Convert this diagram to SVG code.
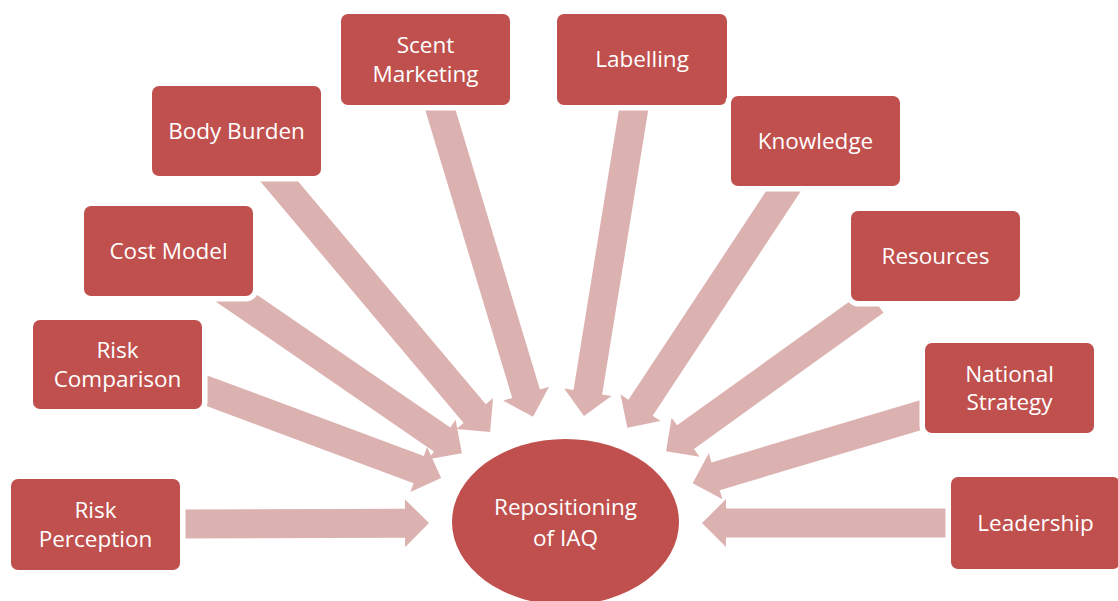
<svg xmlns="http://www.w3.org/2000/svg" width="1118" height="601" viewBox="0 0 1118 601">
<style>
.box{fill:#C0504D;stroke:#FFFFFF;stroke-width:11;paint-order:stroke fill;}
.ell{fill:#C0504D;}
.arr{fill:#DCB2B1;}
text{font-family:"Open Sans","Liberation Sans",sans-serif;font-size:22.5px;fill:#FFFFFF;text-anchor:middle;}
</style>
<rect width="1118" height="601" fill="#FFFFFF"/>
<g id="connectors">
<polygon class="arr" transform="translate(175,524) rotate(-0.2)" points="0,-14.5 230,-14.5 230,-24 254,0 230,24 230,14.5 0,14.5"/>
<polygon class="arr" transform="translate(190,384.5) rotate(20.4)" points="0,-14.5 244,-14.5 244,-24 268,0 244,24 244,14.5 0,14.5"/>
<polygon class="arr" transform="translate(224.5,290) rotate(34.5)" points="0,-14.5 264,-14.5 264,-24 288,0 264,24 264,14.5 0,14.5"/>
<polygon class="arr" transform="translate(269.6,170) rotate(49.9)" points="0,-14.5 318.4,-14.5 318.4,-24 342.4,0 318.4,24 318.4,14.5 0,14.5"/>
<polygon class="arr" transform="translate(436.8,98) rotate(73.2)" points="0,-14.5 308.9,-14.5 308.9,-24 332.9,0 308.9,24 308.9,14.5 0,14.5"/>
<polygon class="arr" transform="translate(635.5,98) rotate(99.2)" points="0,-14.5 298.1,-14.5 298.1,-24 322.1,0 298.1,24 298.1,14.5 0,14.5"/>
<polygon class="arr" transform="translate(790.8,180) rotate(123.4)" points="0,-14.5 272.9,-14.5 272.9,-24 296.9,0 272.9,24 272.9,14.5 0,14.5"/>
<polygon class="arr" transform="translate(875,301) rotate(144.3)" points="0,-14.5 233.3,-14.5 233.3,-24 257.3,0 233.3,24 233.3,14.5 0,14.5"/>
<polygon class="arr" transform="translate(930,412.4) rotate(163.4)" points="0,-14.5 223.7,-14.5 223.7,-24 247.7,0 223.7,24 223.7,14.5 0,14.5"/>
<polygon class="arr" transform="translate(957,523) rotate(180)" points="0,-14.5 231,-14.5 231,-24 255,0 231,24 231,14.5 0,14.5"/>
</g>
<g id="risk-perception">
<rect class="box" x="11" y="479" width="169" height="91" rx="7"/>
<text x="95.5" y="518.3">Risk</text>
<text x="95.5" y="547">Perception</text>
</g>
<g id="risk-comparison">
<rect class="box" x="33" y="320" width="169" height="89" rx="7"/>
<text x="117.5" y="358.3">Risk</text>
<text x="117.5" y="387">Comparison</text>
</g>
<g id="cost-model">
<rect class="box" x="84" y="206" width="169" height="90" rx="7"/>
<text x="168.5" y="258.7">Cost Model</text>
</g>
<g id="body-burden">
<rect class="box" x="152" y="86" width="169" height="90" rx="7"/>
<text x="236.5" y="138.5">Body Burden</text>
</g>
<g id="scent-marketing">
<rect class="box" x="341" y="14" width="169" height="91" rx="7"/>
<text x="425.5" y="53.3">Scent</text>
<text x="425.5" y="81.7">Marketing</text>
</g>
<g id="labelling">
<rect class="box" x="557" y="14" width="170" height="91" rx="7"/>
<text x="642" y="67.3">Labelling</text>
</g>
<g id="knowledge">
<rect class="box" x="731" y="96" width="169" height="90" rx="7"/>
<text x="815.5" y="148.7">Knowledge</text>
</g>
<g id="resources">
<rect class="box" x="851" y="211" width="169" height="90" rx="7"/>
<text x="935.5" y="263.7">Resources</text>
</g>
<g id="national-strategy">
<rect class="box" x="925" y="343" width="169" height="90" rx="7"/>
<text x="1009.5" y="381.8">National</text>
<text x="1009.5" y="410.3">Strategy</text>
</g>
<g id="leadership">
<rect class="box" x="951" y="477" width="169" height="92" rx="7"/>
<text x="1035.5" y="530.7">Leadership</text>
</g>
<g id="repositioning-of-iaq">
<ellipse class="ell" cx="565.5" cy="522" rx="113.5" ry="83"/>
<text x="565.5" y="515">Repositioning</text>
<text x="565.5" y="546">of IAQ</text>
</g>
</svg>
